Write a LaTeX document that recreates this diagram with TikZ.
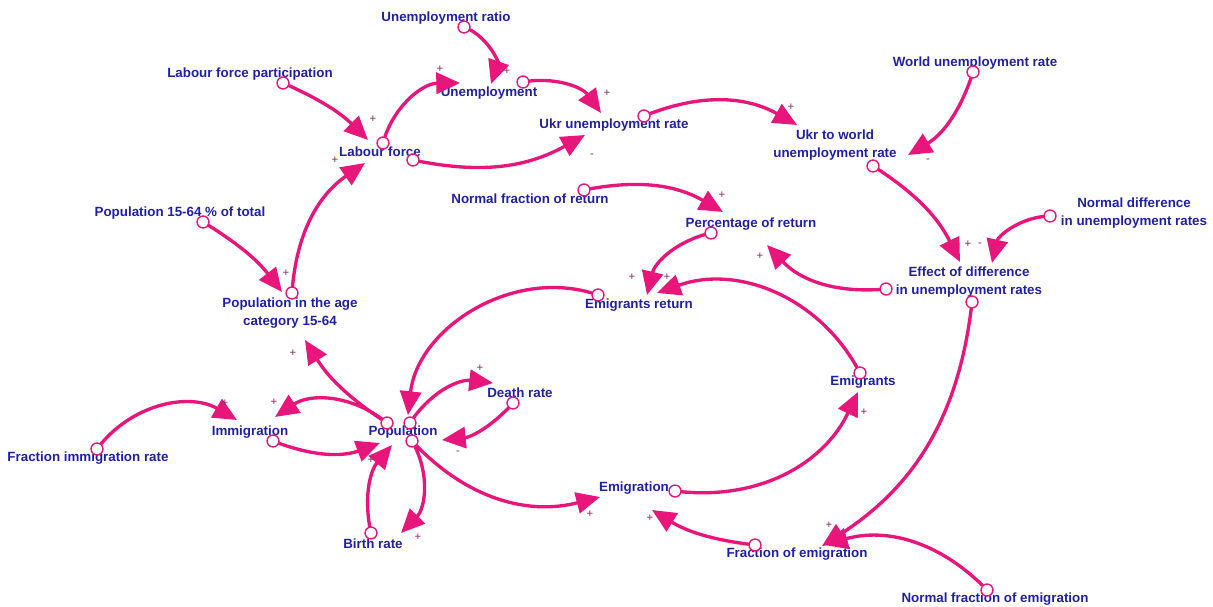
\documentclass[tikz,border=0pt]{standalone}
\usepackage{fontspec}
\setmainfont{Liberation Sans}
\usepackage{tikz}
\usetikzlibrary{arrows.meta}
\usepackage{xcolor}
\definecolor{varblue}{RGB}{32,32,165}
\definecolor{linkpink}{RGB}{232,22,122}
\definecolor{signpurple}{RGB}{140,40,100}

\begin{document}
\begin{tikzpicture}[x=0.02cm,y=0.02cm,>={Triangle[length=13.5pt,width=12pt]},line cap=round,
  var/.style={text=varblue,font=\bfseries\fontsize{7.6}{9.8}\selectfont,align=center,inner sep=0pt},
  link/.style={->,draw=linkpink,line width=1.9pt},
  pin/.style={circle,draw=linkpink,fill=white,line width=0.8pt,inner sep=0pt,minimum size=6.8pt},
  sign/.style={text=signpurple,font=\fontsize{6.5}{6.5}\selectfont,inner sep=0pt}]
\useasboundingbox (0,0) rectangle (1213,607);
\node[var] (ur) at (446,589) {Unemployment ratio};
\node[var] (lfp) at (250,533) {Labour force participation};
\node[var] (unemp) at (489,514) {Unemployment};
\node[var] (lf) at (380,455) {Labour force};
\node[var] (ukr) at (614,482) {Ukr unemployment rate};
\node[var] (ukrw) at (835,462) {Ukr to world\\unemployment rate};
\node[var] (wur) at (975,544) {World unemployment rate};
\node[var] (nfr) at (530,408) {Normal fraction of return};
\node[var] (pr) at (751,383) {Percentage of return};
\node[var] (nd) at (1134,394) {Normal difference\\in unemployment rates};
\node[var] (p1564) at (180,394) {Population 15-64 \% of total};
\node[var] (eff) at (969,325) {Effect of difference\\in unemployment rates};
\node[var] (pac) at (290,294) {Population in the age\\category 15-64};
\node[var] (er) at (639,302) {Emigrants return};
\node[var] (emi) at (863,225) {Emigrants};
\node[var] (dr) at (520,214) {Death rate};
\node[var] (imm) at (250,175) {Immigration};
\node[var] (pop) at (403,175) {Population};
\node[var] (fir) at (88,149) {Fraction immigration rate};
\node[var] (emig) at (634,119) {Emigration};
\node[var] (br) at (373,63) {Birth rate};
\node[var] (foe) at (797,53) {Fraction of emigration};
\node[var] (nfe) at (995,8) {Normal fraction of emigration};

\node[pin] (ur-o) at (464,580) {};
\node[pin] (lfp-o) at (283,524) {};
\node[pin] (lf-o1) at (383,464) {};
\node[pin] (lf-o2) at (413,447) {};
\node[pin] (unemp-o) at (523,525) {};
\node[pin] (ukr-o) at (644,491) {};
\node[pin] (wur-o) at (973,535) {};
\node[pin] (ukrw-o) at (873,441) {};
\node[pin] (nd-o) at (1050,391) {};
\node[pin] (eff-o1) at (886,318) {};
\node[pin] (eff-o2) at (972,305) {};
\node[pin] (nfe-o) at (987,17) {};
\node[pin] (foe-o) at (755,62) {};
\node[pin] (emig-o) at (675,116) {};
\node[pin] (emi-o) at (860,234) {};
\node[pin] (pr-o) at (711,374) {};
\node[pin] (nfr-o) at (584,417) {};
\node[pin] (er-o) at (598,312) {};
\node[pin] (pop-o1) at (387,184) {};
\node[pin] (pop-o2) at (410,184) {};
\node[pin] (pop-o3) at (412,166) {};
\node[pin] (pac-o) at (292,314) {};
\node[pin] (p1564-o) at (203,385) {};
\node[pin] (imm-o) at (273,166) {};
\node[pin] (fir-o) at (97,158) {};
\node[pin] (br-o) at (371,74) {};
\node[pin] (dr-o) at (513,204) {};

\coordinate (unemp-in1) at (491,523);
\coordinate (unemp-in2) at (460,524);
\coordinate (lf-in1) at (368,467);
\coordinate (lf-in2) at (365,444);
\coordinate (ukr-in1) at (585,472);
\coordinate (ukr-in2) at (601,494);
\coordinate (ukrw-in1) at (797,482);
\coordinate (ukrw-in2) at (908,452);
\coordinate (eff-in1) at (960,345);
\coordinate (eff-in2) at (992,344);
\coordinate (pr-in1) at (767,362);
\coordinate (pr-in2) at (723,395);
\coordinate (foe-in1) at (822,61);
\coordinate (foe-in2) at (824,62);
\coordinate (emig-in1) at (652,97);
\coordinate (emig-in2) at (600,110);
\coordinate (emi-in) at (858,215);
\coordinate (er-in1) at (657,314);
\coordinate (er-in2) at (647,312);
\coordinate (pop-in1) at (408,192);
\coordinate (pop-in2) at (380,164);
\coordinate (pop-in3) at (392,162);
\coordinate (pop-in4) at (442,167);
\coordinate (pac-in1) at (305,267);
\coordinate (pac-in2) at (282,315);
\coordinate (imm-in1) at (275,190);
\coordinate (imm-in2) at (237,187);
\coordinate (br-in) at (401,74);
\coordinate (dr-in) at (493,224);

\draw[link] (ur-o) to[bend left=40] (unemp-in1);
\draw[link] (lfp-o) to[bend left=10] (lf-in1);
\draw[link] (lf-o1) to[bend left=35] (unemp-in2);
\draw[link] (lf-o2) to[bend right=20] (ukr-in1);
\draw[link] (unemp-o) to[bend left=30] (ukr-in2);
\draw[link] (ukr-o) to[bend left=25] (ukrw-in1);
\draw[link] (wur-o) to[bend left=20] (ukrw-in2);
\draw[link] (ukrw-o) to[bend left=15] (eff-in1);
\draw[link] (nd-o) to[bend right=35] (eff-in2);
\draw[link] (eff-o1) to[bend left=25] (pr-in1);
\draw[link] (eff-o2) to[bend left=25] (foe-in1);
\draw[link] (nfe-o) to[bend right=30] (foe-in2);
\draw[link] (foe-o) to[bend left=12] (emig-in1);
\draw[link] (emig-o) to[bend right=35] (emi-in);
\draw[link] (emi-o) to[bend right=40] (er-in1);
\draw[link] (pr-o) to[bend right=30] (er-in2);
\draw[link] (nfr-o) to[bend left=20] (pr-in2);
\draw[link] (er-o) to[bend right=50] (pop-in1);
\draw[link] (pop-o1) to[bend left=12] (pac-in1);
\draw[link] (pac-o) to[bend left=25] (lf-in2);
\draw[link] (p1564-o) to[bend left=10] (pac-in2);
\draw[link] (pop-o1) to[bend right=35] (imm-in1);
\draw[link] (imm-o) to[bend right=20] (pop-in2);
\draw[link] (fir-o) to[bend left=40] (imm-in2);
\draw[link] (br-o) to[bend left=25] (pop-in3);
\draw[link] (pop-o3) to[bend left=35] (br-in);
\draw[link] (pop-o2) to[bend left=30] (dr-in);
\draw[link] (dr-o) to[bend left=20] (pop-in4);
\draw[link] (pop-o3) to[bend right=30] (emig-in2);

\node[sign] (s-unemp1) at (507,536) {+};
\node[sign] (s-lf1) at (373,488) {+};
\node[sign] (s-unemp2) at (440,538) {+};
\node[sign] (s-ukr1) at (592,451) {-};
\node[sign] (s-ukr2) at (607,514) {+};
\node[sign] (s-ukrw1) at (791,500) {+};
\node[sign] (s-ukrw2) at (928,446) {-};
\node[sign] (s-eff1) at (968,363) {+};
\node[sign] (s-eff2) at (980,362) {-};
\node[sign] (s-pr1) at (760,351) {+};
\node[sign] (s-foe) at (829,82) {+};
\node[sign] (s-emig1) at (650,89) {+};
\node[sign] (s-emi) at (864,195) {+};
\node[sign] (s-er1) at (667,330) {+};
\node[sign] (s-er2) at (632,330) {+};
\node[sign] (s-pr2) at (722,412) {+};
\node[sign] (s-pac1) at (293,254) {+};
\node[sign] (s-lf2) at (335,447) {+};
\node[sign] (s-pac2) at (286,334) {+};
\node[sign] (s-imm1) at (274,205) {+};
\node[sign] (s-imm2) at (225,204) {+};
\node[sign] (s-pop1) at (371,147) {+};
\node[sign] (s-br) at (418,70) {+};
\node[sign] (s-dr) at (480,239) {+};
\node[sign] (s-pop2) at (458,154) {-};
\node[sign] (s-emig2) at (590,93) {+};
\end{tikzpicture}
\end{document}
